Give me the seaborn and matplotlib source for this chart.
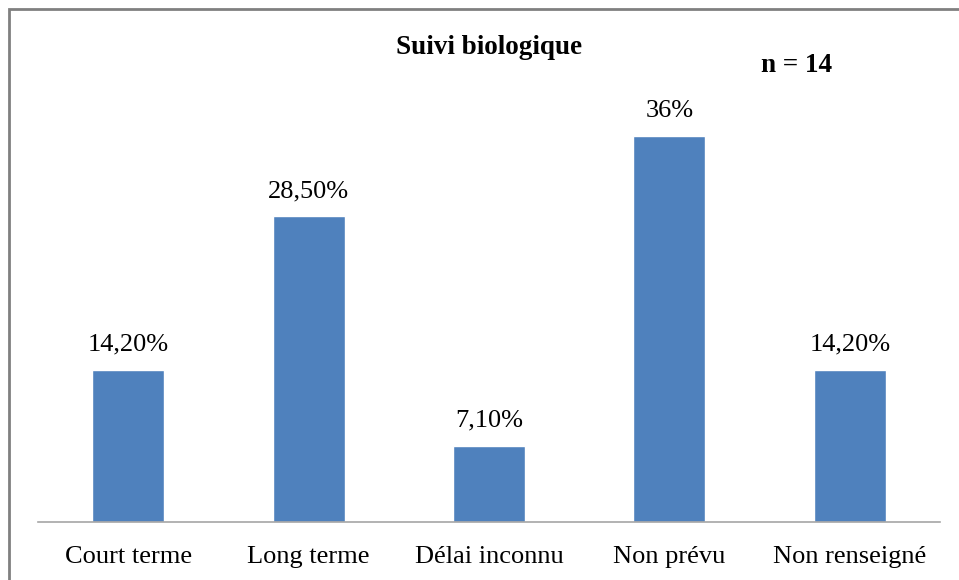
import matplotlib
matplotlib.use("Agg")
import matplotlib.pyplot as plt
import matplotlib.patches as mpatches
import seaborn as sns
import pandas as pd

categories = ["Court terme", "Long terme", "Délai inconnu", "Non prévu", "Non renseigné"]
values = [14.2, 28.5, 7.1, 36.0, 14.2]
labels = ["14,20%", "28,50%", "7,10%", "36%", "14,20%"]

sns.set_theme(style="white")
plt.rcParams["font.family"] = ["Liberation Serif", "DejaVu Serif"]
plt.rcParams["text.color"] = "black"

W, H = 959, 580
fig = plt.figure(figsize=(W / 100, H / 100), dpi=100)
ax = fig.add_axes([38 / W, 1 - 522 / H, (940 - 38) / W, (522 - 93) / H])

df = pd.DataFrame({"cat": categories, "val": values})
sns.barplot(data=df, x="cat", y="val", color="#4F81BD", width=0.4,
            saturation=1, ax=ax)

ax.set_ylim(0, 40)
ax.set_xlim(-0.5, len(categories) - 0.5)
ax.set_xlabel("")
ax.set_ylabel("")
ax.set_yticks([])
for s in ("left", "top", "right"):
    ax.spines[s].set_visible(False)
ax.spines["bottom"].set_color("#A6A6A6")
ax.spines["bottom"].set_linewidth(1.2)
ax.tick_params(axis="x", length=0, pad=17, labelsize=19, labelcolor="black")

for i, (v, t) in enumerate(zip(values, labels)):
    ax.annotate(t, (i, v), xytext=(0, 18), textcoords="offset points",
                ha="center", va="center", fontsize=19, color="black")

fig.text(489 / W, 1 - 47 / H, "Suivi biologique", ha="center", va="center",
         fontsize=19.5, fontweight="bold", color="black")
fig.text(797 / W, 1 - 66 / H, "n = 14", ha="center", va="center",
         fontsize=19.5, fontweight="bold", color="black")

# outer frame of the chart area
frame = mpatches.Rectangle((9 / W, -0.2), 1.2, 1.2 - 9 / H, transform=fig.transFigure,
                           fill=False, edgecolor="#808080", linewidth=2.0, clip_on=False)
fig.patches.append(frame)

fig.savefig("out.png", dpi=100, facecolor="white")
